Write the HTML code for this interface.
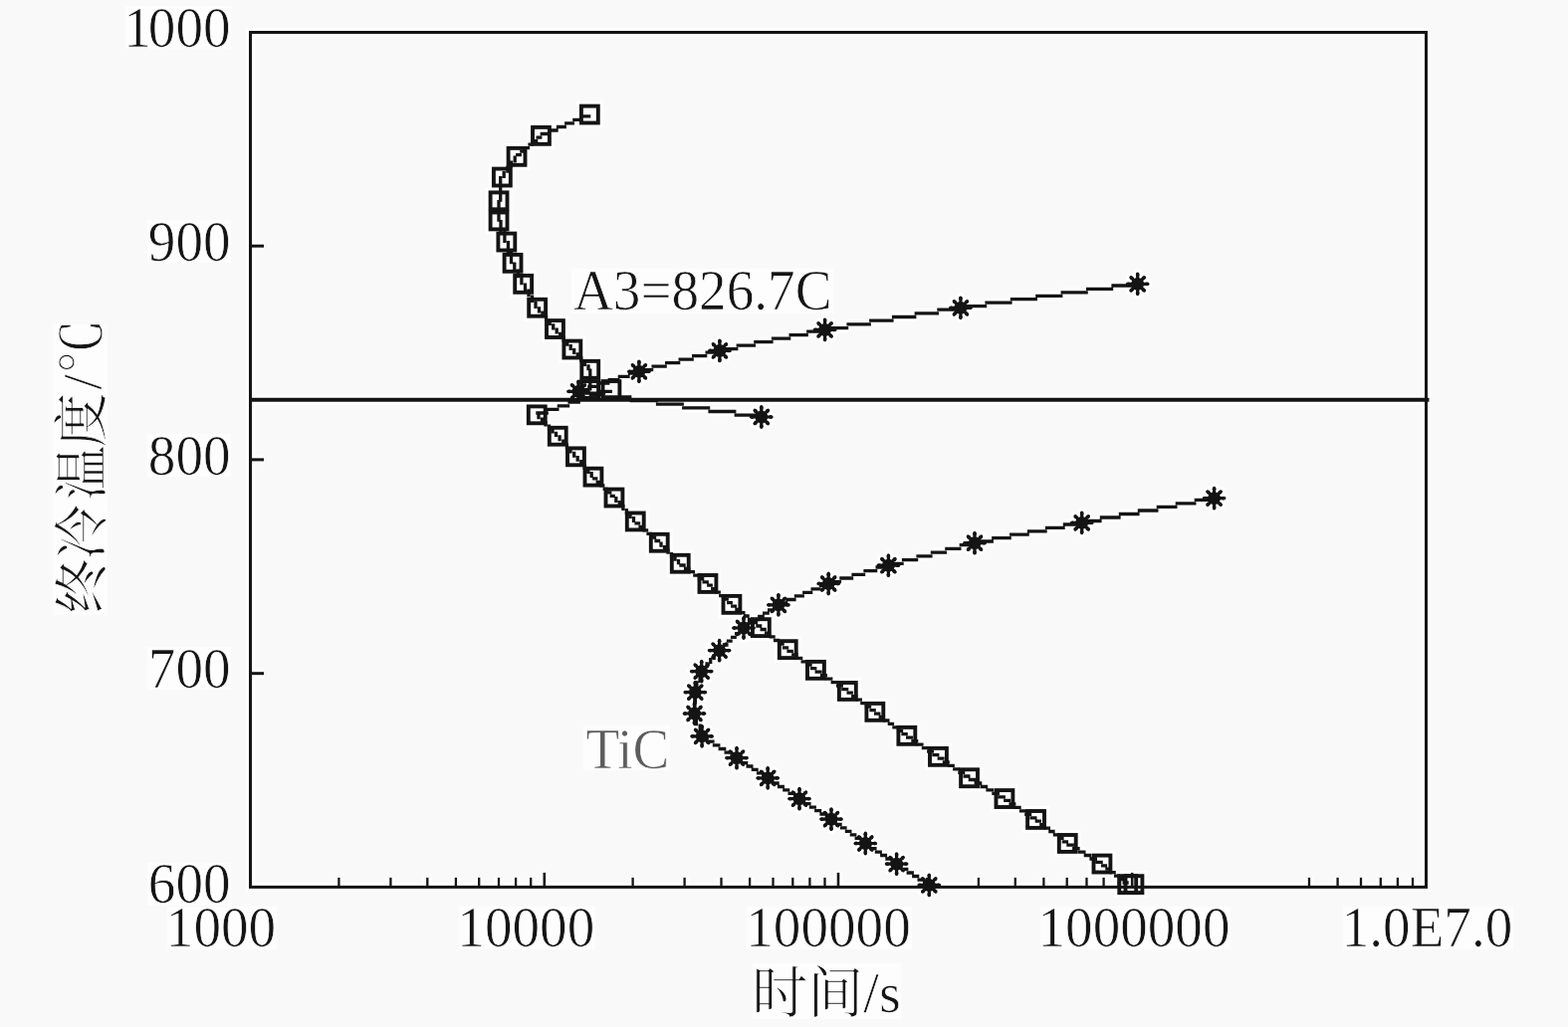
<!DOCTYPE html>
<html lang="zh">
<head>
<meta charset="utf-8">
<title>终冷温度-时间曲线</title>
<style>
html,body{margin:0;padding:0;background:#f9f9f9;}
body{width:1575px;height:1032px;overflow:hidden;font-family:"Liberation Serif","Noto Serif CJK SC",serif;}
svg{display:block;}
</style>
</head>
<body>
<svg width="1575" height="1032" viewBox="0 0 1575 1032">
<rect x="0" y="0" width="1575" height="1032" fill="#f9f9f9"/>
<rect x="126" y="6" width="106" height="43" fill="#fdfdfd"/><rect x="148" y="221" width="84" height="43" fill="#fdfdfd"/><rect x="148" y="436" width="84" height="43" fill="#fdfdfd"/><rect x="148" y="650" width="84" height="43" fill="#fdfdfd"/><rect x="148" y="867" width="84" height="43" fill="#fdfdfd"/><rect x="168" y="911" width="110" height="43" fill="#fdfdfd"/><rect x="461" y="911" width="137" height="43" fill="#fdfdfd"/><rect x="750" y="911" width="166" height="43" fill="#fdfdfd"/><rect x="1045" y="911" width="191" height="43" fill="#fdfdfd"/><rect x="1349" y="911" width="171" height="43" fill="#fdfdfd"/><rect x="756" y="968" width="149" height="56" fill="#fdfdfd"/><rect x="53" y="326" width="55" height="292" fill="#fdfdfd"/><rect x="574" y="270" width="263" height="45" fill="#fdfdfd"/><rect x="586" y="729" width="87" height="45" fill="#fdfdfd"/>
<g>
<rect x="251.5" y="32.5" width="1181.0" height="858.9" fill="none" stroke="#ffffff" stroke-width="9.0"/>
<line x1="251.5" y1="247.2" x2="265.0" y2="247.2" stroke="#ffffff" stroke-width="9.0"/>
<line x1="251.5" y1="461.9" x2="265.0" y2="461.9" stroke="#ffffff" stroke-width="9.0"/>
<line x1="251.5" y1="676.7" x2="265.0" y2="676.7" stroke="#ffffff" stroke-width="9.0"/>
<line x1="340.4" y1="891.4" x2="340.4" y2="881.9" stroke="#ffffff" stroke-width="8.3"/>
<line x1="392.4" y1="891.4" x2="392.4" y2="881.9" stroke="#ffffff" stroke-width="8.3"/>
<line x1="429.3" y1="891.4" x2="429.3" y2="881.9" stroke="#ffffff" stroke-width="8.3"/>
<line x1="457.9" y1="891.4" x2="457.9" y2="881.9" stroke="#ffffff" stroke-width="8.3"/>
<line x1="481.2" y1="891.4" x2="481.2" y2="881.9" stroke="#ffffff" stroke-width="8.3"/>
<line x1="501.0" y1="891.4" x2="501.0" y2="881.9" stroke="#ffffff" stroke-width="8.3"/>
<line x1="518.1" y1="891.4" x2="518.1" y2="881.9" stroke="#ffffff" stroke-width="8.3"/>
<line x1="533.2" y1="891.4" x2="533.2" y2="881.9" stroke="#ffffff" stroke-width="8.3"/>
<line x1="546.8" y1="891.4" x2="546.8" y2="876.9" stroke="#ffffff" stroke-width="8.6"/>
<line x1="635.6" y1="891.4" x2="635.6" y2="881.9" stroke="#ffffff" stroke-width="8.3"/>
<line x1="687.6" y1="891.4" x2="687.6" y2="881.9" stroke="#ffffff" stroke-width="8.3"/>
<line x1="724.5" y1="891.4" x2="724.5" y2="881.9" stroke="#ffffff" stroke-width="8.3"/>
<line x1="753.1" y1="891.4" x2="753.1" y2="881.9" stroke="#ffffff" stroke-width="8.3"/>
<line x1="776.5" y1="891.4" x2="776.5" y2="881.9" stroke="#ffffff" stroke-width="8.3"/>
<line x1="796.3" y1="891.4" x2="796.3" y2="881.9" stroke="#ffffff" stroke-width="8.3"/>
<line x1="813.4" y1="891.4" x2="813.4" y2="881.9" stroke="#ffffff" stroke-width="8.3"/>
<line x1="828.5" y1="891.4" x2="828.5" y2="881.9" stroke="#ffffff" stroke-width="8.3"/>
<line x1="842.0" y1="891.4" x2="842.0" y2="876.9" stroke="#ffffff" stroke-width="8.6"/>
<line x1="930.9" y1="891.4" x2="930.9" y2="881.9" stroke="#ffffff" stroke-width="8.3"/>
<line x1="982.9" y1="891.4" x2="982.9" y2="881.9" stroke="#ffffff" stroke-width="8.3"/>
<line x1="1019.8" y1="891.4" x2="1019.8" y2="881.9" stroke="#ffffff" stroke-width="8.3"/>
<line x1="1048.4" y1="891.4" x2="1048.4" y2="881.9" stroke="#ffffff" stroke-width="8.3"/>
<line x1="1071.7" y1="891.4" x2="1071.7" y2="881.9" stroke="#ffffff" stroke-width="8.3"/>
<line x1="1091.5" y1="891.4" x2="1091.5" y2="881.9" stroke="#ffffff" stroke-width="8.3"/>
<line x1="1108.6" y1="891.4" x2="1108.6" y2="881.9" stroke="#ffffff" stroke-width="8.3"/>
<line x1="1123.7" y1="891.4" x2="1123.7" y2="881.9" stroke="#ffffff" stroke-width="8.3"/>
<line x1="1137.2" y1="891.4" x2="1137.2" y2="876.9" stroke="#ffffff" stroke-width="8.6"/>
<line x1="1315.0" y1="891.4" x2="1315.0" y2="881.9" stroke="#ffffff" stroke-width="8.3"/>
<line x1="1343.6" y1="891.4" x2="1343.6" y2="881.9" stroke="#ffffff" stroke-width="8.3"/>
<line x1="1367.0" y1="891.4" x2="1367.0" y2="881.9" stroke="#ffffff" stroke-width="8.3"/>
<line x1="1386.8" y1="891.4" x2="1386.8" y2="881.9" stroke="#ffffff" stroke-width="8.3"/>
<line x1="1403.9" y1="891.4" x2="1403.9" y2="881.9" stroke="#ffffff" stroke-width="8.3"/>
<line x1="1419.0" y1="891.4" x2="1419.0" y2="881.9" stroke="#ffffff" stroke-width="8.3"/>
<line x1="251.5" y1="401.8" x2="1435.5" y2="401.8" stroke="#ffffff" stroke-width="9.9"/>
<path d="M593.3 116.9H583.4M585.1 120.4H575.2M577.0 123.9H567.1M568.9 127.5H558.9M560.7 131.0H550.8M552.5 134.5H542.6M544.4 138.1H538.5M540.3 141.6H534.4M536.2 145.1H530.4M532.1 148.6H526.3M528.1 152.1H522.2M524.0 155.6H518.1M517.2 156.4V163.4M513.5 161.6V168.6M509.9 166.8V173.7M506.2 171.9V178.9M502.7 177.1V202.7M501.0 200.9V222.8M503.0 221.0V233.3M506.9 231.5V243.9M510.4 242.1V254.6M513.5 252.8V265.3M516.8 263.5V272.3M520.4 270.5V279.3M523.9 277.5V286.3M527.5 284.5V292.2M531.0 290.4V298.2M534.5 296.4V304.1M538.0 302.4V310.1M541.5 308.3V314.4M545.0 312.6V318.6M548.6 316.8V322.9M552.2 321.1V327.1M555.7 325.3V331.4M559.2 329.6V335.5M562.7 333.7V339.6M566.2 337.8V343.7M569.7 341.9V347.8M573.2 346.0V351.9M576.7 350.1V356.0M580.3 354.2V360.0M583.8 358.2V364.1M587.4 362.3V368.1M591.0 366.3V372.2M592.8 370.4V392.4" fill="none" stroke="#ffffff" stroke-width="9.3"/>
<path d="M614.9 393.3H602.4M604.2 396.9H591.7M593.5 400.5H581.0M582.8 404.1H570.4M572.2 407.8H559.7M561.5 411.4H549.0M550.8 415.0H538.3M541.0 415.9V421.3M544.5 419.5V424.8M548.0 423.0V428.4M551.5 426.6V432.0M555.0 430.2V435.5M558.5 433.7V439.1M562.1 437.3V443.2M565.8 441.4V447.3M569.4 445.5V451.5M573.0 449.7V455.6M576.7 453.8V459.7M580.2 457.9V463.8M583.8 462.0V467.8M587.2 466.0V471.9M590.8 470.1V475.9M594.2 474.1V480.0M595.1 480.8H600.4M598.6 484.3H603.9M602.1 487.8H607.4M605.6 491.3H610.9M609.1 494.8H614.4M612.6 498.3H617.9M618.8 499.1V504.9M622.3 503.1V508.9M625.9 507.1V512.9M629.4 511.1V516.9M633.0 515.1V520.9M636.5 519.1V524.9M637.4 525.8H643.2M641.4 529.3H647.2M645.4 532.9H651.2M649.4 536.4H655.2M653.4 540.0H659.2M657.4 543.5H663.2M664.0 544.4V549.7M667.5 547.9V553.2M671.0 551.4V556.7M674.5 554.9V560.2M678.0 558.4V563.7M681.5 561.9V567.2M682.3 568.0H688.7M686.9 571.3H693.4M691.6 574.7H698.0M696.2 578.1H702.6M700.8 581.5H707.3M705.5 584.8H711.9M710.1 588.2H715.9M714.1 591.7H719.9M718.1 595.2H723.9M722.1 598.7H727.9M726.1 602.2H731.9M730.1 605.7H735.9M734.1 609.1H740.1M738.3 612.4H744.3M742.5 615.7H748.5M746.7 619.0H752.7M750.9 622.4H756.9M755.1 625.7H761.1M759.3 629.0H765.3M763.5 632.5H769.8M768.0 636.2H774.3M772.5 639.9H778.7M776.9 643.5H783.2M781.4 647.2H787.7M785.9 650.9H792.2M790.4 654.4H796.9M795.1 657.9H801.6M799.8 661.3H806.3M804.5 664.8H811.0M809.2 668.2H815.7M813.9 671.7H820.4M818.6 675.2H825.7M823.9 678.7H831.0M829.2 682.2H836.4M834.6 685.7H841.7M839.9 689.2H847.0M845.2 692.7H852.3M850.5 696.2H856.9M855.1 699.7H861.5M859.7 703.2H866.0M864.2 706.7H870.6M868.8 710.2H875.2M873.4 713.7H879.8M878.0 717.1H884.4M882.6 720.5H888.9M887.1 724.0H893.5M891.7 727.4H898.1M896.3 730.8H902.7M900.9 734.3H907.2M905.4 737.7H911.8M910.0 741.1H917.1M915.3 744.6H922.3M920.5 748.1H927.6M925.8 751.6H932.9M931.1 755.1H938.1M936.3 758.6H943.4M941.6 762.2H948.6M946.8 765.8H953.8M952.0 769.3H958.9M957.1 772.9H964.1M962.3 776.4H969.3M967.5 780.0H974.5M972.7 783.5H980.4M978.6 787.0H986.3M984.5 790.5H992.2M990.4 793.9H998.1M996.3 797.4H1004.0M1002.2 800.9H1009.9M1008.1 804.3H1015.2M1013.4 807.8H1020.4M1018.6 811.3H1025.7M1023.9 814.8H1031.0M1029.2 818.3H1036.2M1034.4 821.8H1041.5M1039.7 825.2H1046.0M1044.2 828.6H1050.5M1048.7 832.1H1055.0M1053.2 835.5H1059.6M1057.8 838.9H1064.1M1062.3 842.4H1068.6M1066.8 845.8H1073.1M1071.3 849.2H1078.9M1077.1 852.6H1084.7M1082.9 856.1H1090.5M1088.7 859.5H1096.2M1094.4 863.0H1102.0M1100.2 866.4H1107.8M1106.0 869.8H1112.1M1110.3 873.2H1116.4M1114.6 876.7H1120.8M1118.9 880.1H1125.1M1123.3 883.6H1129.4M1127.6 887.0H1133.7" fill="none" stroke="#ffffff" stroke-width="9.3"/>
<path d="M1143.6 287.0H1116.4M1118.2 290.4H1091.0M1092.8 293.9H1065.6M1067.4 297.3H1040.2M1042.0 300.7H1014.8M1016.6 304.2H989.4M991.2 307.6H964.0M965.8 311.1H941.3M943.1 314.8H918.6M920.4 318.5H895.9M897.6 322.2H873.1M874.9 325.9H850.4M852.2 329.6H827.7M829.5 333.1H810.1M811.9 336.6H792.5M794.3 340.1H774.9M776.6 343.6H757.2M759.0 347.1H739.6M741.4 350.6H722.0M723.8 354.1H708.5M710.3 357.6H695.0M696.8 361.1H681.5M683.3 364.6H668.0M669.8 368.1H654.5M656.3 371.6H641.0M642.8 375.0H630.9M632.6 378.3H620.7M622.5 381.6H610.6M612.4 385.0H600.4M602.2 388.3H590.2M592.0 391.6H580.1M580.1 395.1H608.2M606.4 398.8H634.4M632.6 402.5H660.7M658.9 406.1H686.9M685.1 409.8H713.2M711.4 413.5H739.4M737.6 417.2H765.7" fill="none" stroke="#ffffff" stroke-width="9.3"/>
<path d="M1220.5 502.4H1199.7M1201.5 505.9H1180.7M1182.5 509.4H1161.7M1163.5 513.0H1142.8M1144.6 516.5H1123.8M1125.6 520.0H1104.8M1106.6 523.5H1085.8M1087.6 527.0H1067.8M1069.7 530.4H1049.9M1051.7 533.8H1031.9M1033.8 537.2H1014.0M1015.8 540.6H996.1M997.9 544.0H978.1M979.9 547.6H963.7M965.5 551.3H949.2M951.0 555.1H934.8M936.6 558.8H920.4M922.2 562.6H905.9M907.7 566.3H891.5M893.3 570.0H879.5M881.3 573.7H867.4M869.2 577.4H855.4M857.2 581.0H843.3M845.1 584.7H831.3M833.1 588.3H822.9M824.7 591.8H814.5M816.3 595.4H806.1M807.9 598.9H797.8M799.6 602.5H789.4M791.2 606.0H781.0M782.8 609.5H776.0M777.8 612.8H771.0M772.8 616.1H766.0M767.8 619.4H761.1M762.9 622.7H756.1M757.9 626.0H751.1M752.9 629.3H746.1M747.9 632.9H742.0M743.8 636.6H738.0M739.8 640.4H733.9M735.7 644.2H729.8M731.6 648.0H725.8M727.6 651.7H721.7M720.8 652.7V658.7M717.2 656.9V662.9M713.7 661.1V667.1M710.1 665.3V671.3M706.5 669.5V675.5M703.1 673.7V686.0M699.9 684.2V696.5M697.9 694.7V717.9M699.4 716.1V729.3M703.2 727.5V740.7M704.2 741.6H711.8M710.0 745.2H717.6M715.8 748.9H723.4M721.6 752.5H729.3M727.5 756.1H735.1M733.3 759.8H740.9M739.1 763.3H746.1M744.3 766.6H751.3M749.5 770.0H756.5M754.7 773.4H761.7M759.9 776.8H766.9M765.1 780.1H772.1M770.3 783.5H777.4M775.6 787.0H782.7M780.9 790.5H788.0M786.2 793.9H793.3M791.5 797.4H798.6M796.8 800.9H803.9M802.1 804.3H809.2M807.4 807.7H814.6M812.8 811.1H819.9M818.1 814.6H825.2M823.4 818.0H830.6M828.8 821.4H835.9M834.1 824.8H840.8M839.0 828.3H845.7M843.9 831.8H850.6M848.8 835.3H855.5M853.7 838.8H860.4M858.6 842.3H865.3M863.5 845.8H870.2M868.4 849.2H875.4M873.6 852.6H880.6M878.8 856.1H885.9M884.1 859.5H891.1M889.3 863.0H896.3M894.5 866.4H901.5M899.7 869.9H906.9M905.1 873.4H912.4M910.6 877.0H917.9M916.1 880.5H923.3M921.5 884.1H928.7M926.9 887.6H934.2" fill="none" stroke="#ffffff" stroke-width="9.3"/>
<rect x="583.9" y="106.6" width="16.9" height="16.9" fill="none" stroke="#ffffff" stroke-width="9.9"/>
<rect x="535.0" y="127.9" width="16.9" height="16.9" fill="none" stroke="#ffffff" stroke-width="9.9"/>
<rect x="510.6" y="148.9" width="16.9" height="16.9" fill="none" stroke="#ffffff" stroke-width="9.9"/>
<rect x="495.9" y="169.6" width="16.9" height="16.9" fill="none" stroke="#ffffff" stroke-width="9.9"/>
<rect x="492.6" y="193.4" width="16.9" height="16.9" fill="none" stroke="#ffffff" stroke-width="9.9"/>
<rect x="492.6" y="213.5" width="16.9" height="16.9" fill="none" stroke="#ffffff" stroke-width="9.9"/>
<rect x="500.4" y="234.6" width="16.9" height="16.9" fill="none" stroke="#ffffff" stroke-width="9.9"/>
<rect x="506.6" y="255.9" width="16.9" height="16.9" fill="none" stroke="#ffffff" stroke-width="9.9"/>
<rect x="517.2" y="276.9" width="16.9" height="16.9" fill="none" stroke="#ffffff" stroke-width="9.9"/>
<rect x="531.2" y="300.8" width="16.9" height="16.9" fill="none" stroke="#ffffff" stroke-width="9.9"/>
<rect x="549.0" y="322.1" width="16.9" height="16.9" fill="none" stroke="#ffffff" stroke-width="9.9"/>
<rect x="566.4" y="342.6" width="16.9" height="16.9" fill="none" stroke="#ffffff" stroke-width="9.9"/>
<rect x="584.3" y="362.9" width="16.9" height="16.9" fill="none" stroke="#ffffff" stroke-width="9.9"/>
<rect x="584.2" y="383.1" width="16.9" height="16.9" fill="none" stroke="#ffffff" stroke-width="9.9"/>
<rect x="605.5" y="383.1" width="16.9" height="16.9" fill="none" stroke="#ffffff" stroke-width="9.9"/>
<rect x="530.8" y="408.4" width="16.9" height="16.9" fill="none" stroke="#ffffff" stroke-width="9.9"/>
<rect x="551.8" y="429.8" width="16.9" height="16.9" fill="none" stroke="#ffffff" stroke-width="9.9"/>
<rect x="570.0" y="450.4" width="16.9" height="16.9" fill="none" stroke="#ffffff" stroke-width="9.9"/>
<rect x="587.5" y="470.7" width="16.9" height="16.9" fill="none" stroke="#ffffff" stroke-width="9.9"/>
<rect x="608.5" y="491.6" width="16.9" height="16.9" fill="none" stroke="#ffffff" stroke-width="9.9"/>
<rect x="629.8" y="515.5" width="16.9" height="16.9" fill="none" stroke="#ffffff" stroke-width="9.9"/>
<rect x="653.8" y="536.8" width="16.9" height="16.9" fill="none" stroke="#ffffff" stroke-width="9.9"/>
<rect x="674.8" y="557.8" width="16.9" height="16.9" fill="none" stroke="#ffffff" stroke-width="9.9"/>
<rect x="702.5" y="578.0" width="16.9" height="16.9" fill="none" stroke="#ffffff" stroke-width="9.9"/>
<rect x="726.5" y="598.9" width="16.9" height="16.9" fill="none" stroke="#ffffff" stroke-width="9.9"/>
<rect x="755.9" y="622.2" width="16.9" height="16.9" fill="none" stroke="#ffffff" stroke-width="9.9"/>
<rect x="782.8" y="644.2" width="16.9" height="16.9" fill="none" stroke="#ffffff" stroke-width="9.9"/>
<rect x="811.0" y="664.9" width="16.9" height="16.9" fill="none" stroke="#ffffff" stroke-width="9.9"/>
<rect x="842.9" y="686.0" width="16.9" height="16.9" fill="none" stroke="#ffffff" stroke-width="9.9"/>
<rect x="870.4" y="706.9" width="16.9" height="16.9" fill="none" stroke="#ffffff" stroke-width="9.9"/>
<rect x="902.4" y="730.9" width="16.9" height="16.9" fill="none" stroke="#ffffff" stroke-width="9.9"/>
<rect x="934.0" y="751.9" width="16.9" height="16.9" fill="none" stroke="#ffffff" stroke-width="9.9"/>
<rect x="965.1" y="773.3" width="16.9" height="16.9" fill="none" stroke="#ffffff" stroke-width="9.9"/>
<rect x="1000.5" y="794.1" width="16.9" height="16.9" fill="none" stroke="#ffffff" stroke-width="9.9"/>
<rect x="1032.1" y="815.0" width="16.9" height="16.9" fill="none" stroke="#ffffff" stroke-width="9.9"/>
<rect x="1063.8" y="839.0" width="16.9" height="16.9" fill="none" stroke="#ffffff" stroke-width="9.9"/>
<rect x="1098.5" y="859.6" width="16.9" height="16.9" fill="none" stroke="#ffffff" stroke-width="9.9"/>
<rect x="1124.3" y="880.2" width="16.9" height="16.9" fill="none" stroke="#ffffff" stroke-width="9.9"/>
<rect x="1130.5" y="880.2" width="16.9" height="16.9" fill="none" stroke="#ffffff" stroke-width="9.9"/>
<g fill="#ffffff"><path d="M1132.4 285.3L1153.0 285.3M1136.0 278.6L1149.4 292.0M1142.7 275.0L1142.7 295.6M1149.4 278.6L1136.0 292.0" stroke="#ffffff" stroke-width="9.2" stroke-linecap="round" fill="none"/><circle cx="1142.7" cy="285.3" r="6.4"/><circle cx="1133.4" cy="285.3" r="1.9"/><circle cx="1152.0" cy="285.3" r="1.9"/><circle cx="1136.7" cy="279.3" r="1.9"/><circle cx="1148.7" cy="291.3" r="1.9"/><circle cx="1142.7" cy="276.0" r="1.9"/><circle cx="1142.7" cy="294.6" r="1.9"/><circle cx="1148.7" cy="279.3" r="1.9"/><circle cx="1136.7" cy="291.3" r="1.9"/></g>
<g fill="#ffffff"><path d="M954.6 309.3L975.2 309.3M958.2 302.6L971.6 316.0M964.9 299.0L964.9 319.6M971.6 302.6L958.2 316.0" stroke="#ffffff" stroke-width="9.2" stroke-linecap="round" fill="none"/><circle cx="964.9" cy="309.3" r="6.4"/><circle cx="955.6" cy="309.3" r="1.9"/><circle cx="974.2" cy="309.3" r="1.9"/><circle cx="958.9" cy="303.3" r="1.9"/><circle cx="970.9" cy="315.3" r="1.9"/><circle cx="964.9" cy="300.0" r="1.9"/><circle cx="964.9" cy="318.6" r="1.9"/><circle cx="970.9" cy="303.3" r="1.9"/><circle cx="958.9" cy="315.3" r="1.9"/></g>
<g fill="#ffffff"><path d="M818.3 331.4L838.9 331.4M821.9 324.7L835.3 338.1M828.6 321.1L828.6 341.7M835.3 324.7L821.9 338.1" stroke="#ffffff" stroke-width="9.2" stroke-linecap="round" fill="none"/><circle cx="828.6" cy="331.4" r="6.4"/><circle cx="819.3" cy="331.4" r="1.9"/><circle cx="837.9" cy="331.4" r="1.9"/><circle cx="822.6" cy="325.4" r="1.9"/><circle cx="834.6" cy="337.4" r="1.9"/><circle cx="828.6" cy="322.1" r="1.9"/><circle cx="828.6" cy="340.7" r="1.9"/><circle cx="834.6" cy="325.4" r="1.9"/><circle cx="822.6" cy="337.4" r="1.9"/></g>
<g fill="#ffffff"><path d="M712.6 352.4L733.2 352.4M716.2 345.7L729.6 359.1M722.9 342.1L722.9 362.7M729.6 345.7L716.2 359.1" stroke="#ffffff" stroke-width="9.2" stroke-linecap="round" fill="none"/><circle cx="722.9" cy="352.4" r="6.4"/><circle cx="713.6" cy="352.4" r="1.9"/><circle cx="732.2" cy="352.4" r="1.9"/><circle cx="716.9" cy="346.4" r="1.9"/><circle cx="728.9" cy="358.4" r="1.9"/><circle cx="722.9" cy="343.1" r="1.9"/><circle cx="722.9" cy="361.7" r="1.9"/><circle cx="728.9" cy="346.4" r="1.9"/><circle cx="716.9" cy="358.4" r="1.9"/></g>
<g fill="#ffffff"><path d="M631.6 373.3L652.2 373.3M635.2 366.6L648.6 380.0M641.9 363.0L641.9 383.6M648.6 366.6L635.2 380.0" stroke="#ffffff" stroke-width="9.2" stroke-linecap="round" fill="none"/><circle cx="641.9" cy="373.3" r="6.4"/><circle cx="632.6" cy="373.3" r="1.9"/><circle cx="651.2" cy="373.3" r="1.9"/><circle cx="635.9" cy="367.3" r="1.9"/><circle cx="647.9" cy="379.3" r="1.9"/><circle cx="641.9" cy="364.0" r="1.9"/><circle cx="641.9" cy="382.6" r="1.9"/><circle cx="647.9" cy="367.3" r="1.9"/><circle cx="635.9" cy="379.3" r="1.9"/></g>
<g fill="#ffffff"><path d="M570.7 393.3L591.3 393.3M574.3 386.6L587.7 400.0M581.0 383.0L581.0 403.6M587.7 386.6L574.3 400.0" stroke="#ffffff" stroke-width="9.2" stroke-linecap="round" fill="none"/><circle cx="581.0" cy="393.3" r="6.4"/><circle cx="571.7" cy="393.3" r="1.9"/><circle cx="590.3" cy="393.3" r="1.9"/><circle cx="575.0" cy="387.3" r="1.9"/><circle cx="587.0" cy="399.3" r="1.9"/><circle cx="581.0" cy="384.0" r="1.9"/><circle cx="581.0" cy="402.6" r="1.9"/><circle cx="587.0" cy="387.3" r="1.9"/><circle cx="575.0" cy="399.3" r="1.9"/></g>
<g fill="#ffffff"><path d="M754.5 419.0L775.1 419.0M758.1 412.3L771.5 425.7M764.8 408.7L764.8 429.3M771.5 412.3L758.1 425.7" stroke="#ffffff" stroke-width="9.2" stroke-linecap="round" fill="none"/><circle cx="764.8" cy="419.0" r="6.4"/><circle cx="755.5" cy="419.0" r="1.9"/><circle cx="774.1" cy="419.0" r="1.9"/><circle cx="758.8" cy="413.0" r="1.9"/><circle cx="770.8" cy="425.0" r="1.9"/><circle cx="764.8" cy="409.7" r="1.9"/><circle cx="764.8" cy="428.3" r="1.9"/><circle cx="770.8" cy="413.0" r="1.9"/><circle cx="758.8" cy="425.0" r="1.9"/></g>
<g fill="#ffffff"><path d="M1209.3 500.6L1229.9 500.6M1212.9 493.9L1226.3 507.3M1219.6 490.3L1219.6 510.9M1226.3 493.9L1212.9 507.3" stroke="#ffffff" stroke-width="9.2" stroke-linecap="round" fill="none"/><circle cx="1219.6" cy="500.6" r="6.4"/><circle cx="1210.3" cy="500.6" r="1.9"/><circle cx="1228.9" cy="500.6" r="1.9"/><circle cx="1213.6" cy="494.6" r="1.9"/><circle cx="1225.6" cy="506.6" r="1.9"/><circle cx="1219.6" cy="491.3" r="1.9"/><circle cx="1219.6" cy="509.9" r="1.9"/><circle cx="1225.6" cy="494.6" r="1.9"/><circle cx="1213.6" cy="506.6" r="1.9"/></g>
<g fill="#ffffff"><path d="M1076.4 525.3L1097.0 525.3M1080.0 518.6L1093.4 532.0M1086.7 515.0L1086.7 535.6M1093.4 518.6L1080.0 532.0" stroke="#ffffff" stroke-width="9.2" stroke-linecap="round" fill="none"/><circle cx="1086.7" cy="525.3" r="6.4"/><circle cx="1077.4" cy="525.3" r="1.9"/><circle cx="1096.0" cy="525.3" r="1.9"/><circle cx="1080.7" cy="519.3" r="1.9"/><circle cx="1092.7" cy="531.3" r="1.9"/><circle cx="1086.7" cy="516.0" r="1.9"/><circle cx="1086.7" cy="534.6" r="1.9"/><circle cx="1092.7" cy="519.3" r="1.9"/><circle cx="1080.7" cy="531.3" r="1.9"/></g>
<g fill="#ffffff"><path d="M968.7 545.7L989.3 545.7M972.3 539.0L985.7 552.4M979.0 535.4L979.0 556.0M985.7 539.0L972.3 552.4" stroke="#ffffff" stroke-width="9.2" stroke-linecap="round" fill="none"/><circle cx="979.0" cy="545.7" r="6.4"/><circle cx="969.7" cy="545.7" r="1.9"/><circle cx="988.3" cy="545.7" r="1.9"/><circle cx="973.0" cy="539.7" r="1.9"/><circle cx="985.0" cy="551.7" r="1.9"/><circle cx="979.0" cy="536.4" r="1.9"/><circle cx="979.0" cy="555.0" r="1.9"/><circle cx="985.0" cy="539.7" r="1.9"/><circle cx="973.0" cy="551.7" r="1.9"/></g>
<g fill="#ffffff"><path d="M882.1 568.2L902.7 568.2M885.7 561.5L899.1 574.9M892.4 557.9L892.4 578.5M899.1 561.5L885.7 574.9" stroke="#ffffff" stroke-width="9.2" stroke-linecap="round" fill="none"/><circle cx="892.4" cy="568.2" r="6.4"/><circle cx="883.1" cy="568.2" r="1.9"/><circle cx="901.7" cy="568.2" r="1.9"/><circle cx="886.4" cy="562.2" r="1.9"/><circle cx="898.4" cy="574.2" r="1.9"/><circle cx="892.4" cy="558.9" r="1.9"/><circle cx="892.4" cy="577.5" r="1.9"/><circle cx="898.4" cy="562.2" r="1.9"/><circle cx="886.4" cy="574.2" r="1.9"/></g>
<g fill="#ffffff"><path d="M821.9 586.5L842.5 586.5M825.5 579.8L838.9 593.2M832.2 576.2L832.2 596.8M838.9 579.8L825.5 593.2" stroke="#ffffff" stroke-width="9.2" stroke-linecap="round" fill="none"/><circle cx="832.2" cy="586.5" r="6.4"/><circle cx="822.9" cy="586.5" r="1.9"/><circle cx="841.5" cy="586.5" r="1.9"/><circle cx="826.2" cy="580.5" r="1.9"/><circle cx="838.2" cy="592.5" r="1.9"/><circle cx="832.2" cy="577.2" r="1.9"/><circle cx="832.2" cy="595.8" r="1.9"/><circle cx="838.2" cy="580.5" r="1.9"/><circle cx="826.2" cy="592.5" r="1.9"/></g>
<g fill="#ffffff"><path d="M771.6 607.8L792.2 607.8M775.2 601.1L788.6 614.5M781.9 597.5L781.9 618.1M788.6 601.1L775.2 614.5" stroke="#ffffff" stroke-width="9.2" stroke-linecap="round" fill="none"/><circle cx="781.9" cy="607.8" r="6.4"/><circle cx="772.6" cy="607.8" r="1.9"/><circle cx="791.2" cy="607.8" r="1.9"/><circle cx="775.9" cy="601.8" r="1.9"/><circle cx="787.9" cy="613.8" r="1.9"/><circle cx="781.9" cy="598.5" r="1.9"/><circle cx="781.9" cy="617.1" r="1.9"/><circle cx="787.9" cy="601.8" r="1.9"/><circle cx="775.9" cy="613.8" r="1.9"/></g>
<g fill="#ffffff"><path d="M736.7 631.0L757.3 631.0M740.3 624.3L753.7 637.7M747.0 620.7L747.0 641.3M753.7 624.3L740.3 637.7" stroke="#ffffff" stroke-width="9.2" stroke-linecap="round" fill="none"/><circle cx="747.0" cy="631.0" r="6.4"/><circle cx="737.7" cy="631.0" r="1.9"/><circle cx="756.3" cy="631.0" r="1.9"/><circle cx="741.0" cy="625.0" r="1.9"/><circle cx="753.0" cy="637.0" r="1.9"/><circle cx="747.0" cy="621.7" r="1.9"/><circle cx="747.0" cy="640.3" r="1.9"/><circle cx="753.0" cy="625.0" r="1.9"/><circle cx="741.0" cy="637.0" r="1.9"/></g>
<g fill="#ffffff"><path d="M712.3 653.6L732.9 653.6M715.9 646.9L729.3 660.3M722.6 643.3L722.6 663.9M729.3 646.9L715.9 660.3" stroke="#ffffff" stroke-width="9.2" stroke-linecap="round" fill="none"/><circle cx="722.6" cy="653.6" r="6.4"/><circle cx="713.3" cy="653.6" r="1.9"/><circle cx="731.9" cy="653.6" r="1.9"/><circle cx="716.6" cy="647.6" r="1.9"/><circle cx="728.6" cy="659.6" r="1.9"/><circle cx="722.6" cy="644.3" r="1.9"/><circle cx="722.6" cy="662.9" r="1.9"/><circle cx="728.6" cy="647.6" r="1.9"/><circle cx="716.6" cy="659.6" r="1.9"/></g>
<g fill="#ffffff"><path d="M694.4 674.6L715.0 674.6M698.0 667.9L711.4 681.3M704.7 664.3L704.7 684.9M711.4 667.9L698.0 681.3" stroke="#ffffff" stroke-width="9.2" stroke-linecap="round" fill="none"/><circle cx="704.7" cy="674.6" r="6.4"/><circle cx="695.4" cy="674.6" r="1.9"/><circle cx="714.0" cy="674.6" r="1.9"/><circle cx="698.7" cy="668.6" r="1.9"/><circle cx="710.7" cy="680.6" r="1.9"/><circle cx="704.7" cy="665.3" r="1.9"/><circle cx="704.7" cy="683.9" r="1.9"/><circle cx="710.7" cy="668.6" r="1.9"/><circle cx="698.7" cy="680.6" r="1.9"/></g>
<g fill="#ffffff"><path d="M688.0 695.6L708.6 695.6M691.6 688.9L705.0 702.3M698.3 685.3L698.3 705.9M705.0 688.9L691.6 702.3" stroke="#ffffff" stroke-width="9.2" stroke-linecap="round" fill="none"/><circle cx="698.3" cy="695.6" r="6.4"/><circle cx="689.0" cy="695.6" r="1.9"/><circle cx="707.6" cy="695.6" r="1.9"/><circle cx="692.3" cy="689.6" r="1.9"/><circle cx="704.3" cy="701.6" r="1.9"/><circle cx="698.3" cy="686.3" r="1.9"/><circle cx="698.3" cy="704.9" r="1.9"/><circle cx="704.3" cy="689.6" r="1.9"/><circle cx="692.3" cy="701.6" r="1.9"/></g>
<g fill="#ffffff"><path d="M687.2 717.0L707.8 717.0M690.8 710.3L704.2 723.7M697.5 706.7L697.5 727.3M704.2 710.3L690.8 723.7" stroke="#ffffff" stroke-width="9.2" stroke-linecap="round" fill="none"/><circle cx="697.5" cy="717.0" r="6.4"/><circle cx="688.2" cy="717.0" r="1.9"/><circle cx="706.8" cy="717.0" r="1.9"/><circle cx="691.5" cy="711.0" r="1.9"/><circle cx="703.5" cy="723.0" r="1.9"/><circle cx="697.5" cy="707.7" r="1.9"/><circle cx="697.5" cy="726.3" r="1.9"/><circle cx="703.5" cy="711.0" r="1.9"/><circle cx="691.5" cy="723.0" r="1.9"/></g>
<g fill="#ffffff"><path d="M694.8 739.8L715.4 739.8M698.4 733.1L711.8 746.5M705.1 729.5L705.1 750.1M711.8 733.1L698.4 746.5" stroke="#ffffff" stroke-width="9.2" stroke-linecap="round" fill="none"/><circle cx="705.1" cy="739.8" r="6.4"/><circle cx="695.8" cy="739.8" r="1.9"/><circle cx="714.4" cy="739.8" r="1.9"/><circle cx="699.1" cy="733.8" r="1.9"/><circle cx="711.1" cy="745.8" r="1.9"/><circle cx="705.1" cy="730.5" r="1.9"/><circle cx="705.1" cy="749.1" r="1.9"/><circle cx="711.1" cy="733.8" r="1.9"/><circle cx="699.1" cy="745.8" r="1.9"/></g>
<g fill="#ffffff"><path d="M729.7 761.6L750.3 761.6M733.3 754.9L746.7 768.3M740.0 751.3L740.0 771.9M746.7 754.9L733.3 768.3" stroke="#ffffff" stroke-width="9.2" stroke-linecap="round" fill="none"/><circle cx="740.0" cy="761.6" r="6.4"/><circle cx="730.7" cy="761.6" r="1.9"/><circle cx="749.3" cy="761.6" r="1.9"/><circle cx="734.0" cy="755.6" r="1.9"/><circle cx="746.0" cy="767.6" r="1.9"/><circle cx="740.0" cy="752.3" r="1.9"/><circle cx="740.0" cy="770.9" r="1.9"/><circle cx="746.0" cy="755.6" r="1.9"/><circle cx="734.0" cy="767.6" r="1.9"/></g>
<g fill="#ffffff"><path d="M760.9 781.8L781.5 781.8M764.5 775.1L777.9 788.5M771.2 771.5L771.2 792.1M777.9 775.1L764.5 788.5" stroke="#ffffff" stroke-width="9.2" stroke-linecap="round" fill="none"/><circle cx="771.2" cy="781.8" r="6.4"/><circle cx="761.9" cy="781.8" r="1.9"/><circle cx="780.5" cy="781.8" r="1.9"/><circle cx="765.2" cy="775.8" r="1.9"/><circle cx="777.2" cy="787.8" r="1.9"/><circle cx="771.2" cy="772.5" r="1.9"/><circle cx="771.2" cy="791.1" r="1.9"/><circle cx="777.2" cy="775.8" r="1.9"/><circle cx="765.2" cy="787.8" r="1.9"/></g>
<g fill="#ffffff"><path d="M792.7 802.6L813.3 802.6M796.3 795.9L809.7 809.3M803.0 792.3L803.0 812.9M809.7 795.9L796.3 809.3" stroke="#ffffff" stroke-width="9.2" stroke-linecap="round" fill="none"/><circle cx="803.0" cy="802.6" r="6.4"/><circle cx="793.7" cy="802.6" r="1.9"/><circle cx="812.3" cy="802.6" r="1.9"/><circle cx="797.0" cy="796.6" r="1.9"/><circle cx="809.0" cy="808.6" r="1.9"/><circle cx="803.0" cy="793.3" r="1.9"/><circle cx="803.0" cy="811.9" r="1.9"/><circle cx="809.0" cy="796.6" r="1.9"/><circle cx="797.0" cy="808.6" r="1.9"/></g>
<g fill="#ffffff"><path d="M824.7 823.1L845.3 823.1M828.3 816.4L841.7 829.8M835.0 812.8L835.0 833.4M841.7 816.4L828.3 829.8" stroke="#ffffff" stroke-width="9.2" stroke-linecap="round" fill="none"/><circle cx="835.0" cy="823.1" r="6.4"/><circle cx="825.7" cy="823.1" r="1.9"/><circle cx="844.3" cy="823.1" r="1.9"/><circle cx="829.0" cy="817.1" r="1.9"/><circle cx="841.0" cy="829.1" r="1.9"/><circle cx="835.0" cy="813.8" r="1.9"/><circle cx="835.0" cy="832.4" r="1.9"/><circle cx="841.0" cy="817.1" r="1.9"/><circle cx="829.0" cy="829.1" r="1.9"/></g>
<g fill="#ffffff"><path d="M859.0 847.5L879.6 847.5M862.6 840.8L876.0 854.2M869.3 837.2L869.3 857.8M876.0 840.8L862.6 854.2" stroke="#ffffff" stroke-width="9.2" stroke-linecap="round" fill="none"/><circle cx="869.3" cy="847.5" r="6.4"/><circle cx="860.0" cy="847.5" r="1.9"/><circle cx="878.6" cy="847.5" r="1.9"/><circle cx="863.3" cy="841.5" r="1.9"/><circle cx="875.3" cy="853.5" r="1.9"/><circle cx="869.3" cy="838.2" r="1.9"/><circle cx="869.3" cy="856.8" r="1.9"/><circle cx="875.3" cy="841.5" r="1.9"/><circle cx="863.3" cy="853.5" r="1.9"/></g>
<g fill="#ffffff"><path d="M890.3 868.1L910.9 868.1M893.9 861.4L907.3 874.8M900.6 857.8L900.6 878.4M907.3 861.4L893.9 874.8" stroke="#ffffff" stroke-width="9.2" stroke-linecap="round" fill="none"/><circle cx="900.6" cy="868.1" r="6.4"/><circle cx="891.3" cy="868.1" r="1.9"/><circle cx="909.9" cy="868.1" r="1.9"/><circle cx="894.6" cy="862.1" r="1.9"/><circle cx="906.6" cy="874.1" r="1.9"/><circle cx="900.6" cy="858.8" r="1.9"/><circle cx="900.6" cy="877.4" r="1.9"/><circle cx="906.6" cy="862.1" r="1.9"/><circle cx="894.6" cy="874.1" r="1.9"/></g>
<g fill="#ffffff"><path d="M923.0 889.4L943.6 889.4M926.6 882.7L940.0 896.1M933.3 879.1L933.3 899.7M940.0 882.7L926.6 896.1" stroke="#ffffff" stroke-width="9.2" stroke-linecap="round" fill="none"/><circle cx="933.3" cy="889.4" r="6.4"/><circle cx="924.0" cy="889.4" r="1.9"/><circle cx="942.6" cy="889.4" r="1.9"/><circle cx="927.3" cy="883.4" r="1.9"/><circle cx="939.3" cy="895.4" r="1.9"/><circle cx="933.3" cy="880.1" r="1.9"/><circle cx="933.3" cy="898.7" r="1.9"/><circle cx="939.3" cy="883.4" r="1.9"/><circle cx="927.3" cy="895.4" r="1.9"/></g>
</g>
<rect x="251.5" y="32.5" width="1181.0" height="858.9" fill="none" stroke="#141414" stroke-width="3"/>
<line x1="251.5" y1="247.2" x2="265.0" y2="247.2" stroke="#141414" stroke-width="3"/>
<line x1="251.5" y1="461.9" x2="265.0" y2="461.9" stroke="#141414" stroke-width="3"/>
<line x1="251.5" y1="676.7" x2="265.0" y2="676.7" stroke="#141414" stroke-width="3"/>
<line x1="340.4" y1="891.4" x2="340.4" y2="881.9" stroke="#141414" stroke-width="2.3"/>
<line x1="392.4" y1="891.4" x2="392.4" y2="881.9" stroke="#141414" stroke-width="2.3"/>
<line x1="429.3" y1="891.4" x2="429.3" y2="881.9" stroke="#141414" stroke-width="2.3"/>
<line x1="457.9" y1="891.4" x2="457.9" y2="881.9" stroke="#141414" stroke-width="2.3"/>
<line x1="481.2" y1="891.4" x2="481.2" y2="881.9" stroke="#141414" stroke-width="2.3"/>
<line x1="501.0" y1="891.4" x2="501.0" y2="881.9" stroke="#141414" stroke-width="2.3"/>
<line x1="518.1" y1="891.4" x2="518.1" y2="881.9" stroke="#141414" stroke-width="2.3"/>
<line x1="533.2" y1="891.4" x2="533.2" y2="881.9" stroke="#141414" stroke-width="2.3"/>
<line x1="546.8" y1="891.4" x2="546.8" y2="876.9" stroke="#141414" stroke-width="2.6"/>
<line x1="635.6" y1="891.4" x2="635.6" y2="881.9" stroke="#141414" stroke-width="2.3"/>
<line x1="687.6" y1="891.4" x2="687.6" y2="881.9" stroke="#141414" stroke-width="2.3"/>
<line x1="724.5" y1="891.4" x2="724.5" y2="881.9" stroke="#141414" stroke-width="2.3"/>
<line x1="753.1" y1="891.4" x2="753.1" y2="881.9" stroke="#141414" stroke-width="2.3"/>
<line x1="776.5" y1="891.4" x2="776.5" y2="881.9" stroke="#141414" stroke-width="2.3"/>
<line x1="796.3" y1="891.4" x2="796.3" y2="881.9" stroke="#141414" stroke-width="2.3"/>
<line x1="813.4" y1="891.4" x2="813.4" y2="881.9" stroke="#141414" stroke-width="2.3"/>
<line x1="828.5" y1="891.4" x2="828.5" y2="881.9" stroke="#141414" stroke-width="2.3"/>
<line x1="842.0" y1="891.4" x2="842.0" y2="876.9" stroke="#141414" stroke-width="2.6"/>
<line x1="930.9" y1="891.4" x2="930.9" y2="881.9" stroke="#141414" stroke-width="2.3"/>
<line x1="982.9" y1="891.4" x2="982.9" y2="881.9" stroke="#141414" stroke-width="2.3"/>
<line x1="1019.8" y1="891.4" x2="1019.8" y2="881.9" stroke="#141414" stroke-width="2.3"/>
<line x1="1048.4" y1="891.4" x2="1048.4" y2="881.9" stroke="#141414" stroke-width="2.3"/>
<line x1="1071.7" y1="891.4" x2="1071.7" y2="881.9" stroke="#141414" stroke-width="2.3"/>
<line x1="1091.5" y1="891.4" x2="1091.5" y2="881.9" stroke="#141414" stroke-width="2.3"/>
<line x1="1108.6" y1="891.4" x2="1108.6" y2="881.9" stroke="#141414" stroke-width="2.3"/>
<line x1="1123.7" y1="891.4" x2="1123.7" y2="881.9" stroke="#141414" stroke-width="2.3"/>
<line x1="1137.2" y1="891.4" x2="1137.2" y2="876.9" stroke="#141414" stroke-width="2.6"/>
<line x1="1315.0" y1="891.4" x2="1315.0" y2="881.9" stroke="#141414" stroke-width="2.3"/>
<line x1="1343.6" y1="891.4" x2="1343.6" y2="881.9" stroke="#141414" stroke-width="2.3"/>
<line x1="1367.0" y1="891.4" x2="1367.0" y2="881.9" stroke="#141414" stroke-width="2.3"/>
<line x1="1386.8" y1="891.4" x2="1386.8" y2="881.9" stroke="#141414" stroke-width="2.3"/>
<line x1="1403.9" y1="891.4" x2="1403.9" y2="881.9" stroke="#141414" stroke-width="2.3"/>
<line x1="1419.0" y1="891.4" x2="1419.0" y2="881.9" stroke="#141414" stroke-width="2.3"/>
<line x1="251.5" y1="401.8" x2="1435.5" y2="401.8" stroke="#141414" stroke-width="3.9"/>
<path d="M593.3 116.9H583.4M585.1 120.4H575.2M577.0 123.9H567.1M568.9 127.5H558.9M560.7 131.0H550.8M552.5 134.5H542.6M544.4 138.1H538.5M540.3 141.6H534.4M536.2 145.1H530.4M532.1 148.6H526.3M528.1 152.1H522.2M524.0 155.6H518.1M517.2 156.4V163.4M513.5 161.6V168.6M509.9 166.8V173.7M506.2 171.9V178.9M502.7 177.1V202.7M501.0 200.9V222.8M503.0 221.0V233.3M506.9 231.5V243.9M510.4 242.1V254.6M513.5 252.8V265.3M516.8 263.5V272.3M520.4 270.5V279.3M523.9 277.5V286.3M527.5 284.5V292.2M531.0 290.4V298.2M534.5 296.4V304.1M538.0 302.4V310.1M541.5 308.3V314.4M545.0 312.6V318.6M548.6 316.8V322.9M552.2 321.1V327.1M555.7 325.3V331.4M559.2 329.6V335.5M562.7 333.7V339.6M566.2 337.8V343.7M569.7 341.9V347.8M573.2 346.0V351.9M576.7 350.1V356.0M580.3 354.2V360.0M583.8 358.2V364.1M587.4 362.3V368.1M591.0 366.3V372.2M592.8 370.4V392.4" fill="none" stroke="#141414" stroke-width="3.3"/>
<path d="M614.9 393.3H602.4M604.2 396.9H591.7M593.5 400.5H581.0M582.8 404.1H570.4M572.2 407.8H559.7M561.5 411.4H549.0M550.8 415.0H538.3M541.0 415.9V421.3M544.5 419.5V424.8M548.0 423.0V428.4M551.5 426.6V432.0M555.0 430.2V435.5M558.5 433.7V439.1M562.1 437.3V443.2M565.8 441.4V447.3M569.4 445.5V451.5M573.0 449.7V455.6M576.7 453.8V459.7M580.2 457.9V463.8M583.8 462.0V467.8M587.2 466.0V471.9M590.8 470.1V475.9M594.2 474.1V480.0M595.1 480.8H600.4M598.6 484.3H603.9M602.1 487.8H607.4M605.6 491.3H610.9M609.1 494.8H614.4M612.6 498.3H617.9M618.8 499.1V504.9M622.3 503.1V508.9M625.9 507.1V512.9M629.4 511.1V516.9M633.0 515.1V520.9M636.5 519.1V524.9M637.4 525.8H643.2M641.4 529.3H647.2M645.4 532.9H651.2M649.4 536.4H655.2M653.4 540.0H659.2M657.4 543.5H663.2M664.0 544.4V549.7M667.5 547.9V553.2M671.0 551.4V556.7M674.5 554.9V560.2M678.0 558.4V563.7M681.5 561.9V567.2M682.3 568.0H688.7M686.9 571.3H693.4M691.6 574.7H698.0M696.2 578.1H702.6M700.8 581.5H707.3M705.5 584.8H711.9M710.1 588.2H715.9M714.1 591.7H719.9M718.1 595.2H723.9M722.1 598.7H727.9M726.1 602.2H731.9M730.1 605.7H735.9M734.1 609.1H740.1M738.3 612.4H744.3M742.5 615.7H748.5M746.7 619.0H752.7M750.9 622.4H756.9M755.1 625.7H761.1M759.3 629.0H765.3M763.5 632.5H769.8M768.0 636.2H774.3M772.5 639.9H778.7M776.9 643.5H783.2M781.4 647.2H787.7M785.9 650.9H792.2M790.4 654.4H796.9M795.1 657.9H801.6M799.8 661.3H806.3M804.5 664.8H811.0M809.2 668.2H815.7M813.9 671.7H820.4M818.6 675.2H825.7M823.9 678.7H831.0M829.2 682.2H836.4M834.6 685.7H841.7M839.9 689.2H847.0M845.2 692.7H852.3M850.5 696.2H856.9M855.1 699.7H861.5M859.7 703.2H866.0M864.2 706.7H870.6M868.8 710.2H875.2M873.4 713.7H879.8M878.0 717.1H884.4M882.6 720.5H888.9M887.1 724.0H893.5M891.7 727.4H898.1M896.3 730.8H902.7M900.9 734.3H907.2M905.4 737.7H911.8M910.0 741.1H917.1M915.3 744.6H922.3M920.5 748.1H927.6M925.8 751.6H932.9M931.1 755.1H938.1M936.3 758.6H943.4M941.6 762.2H948.6M946.8 765.8H953.8M952.0 769.3H958.9M957.1 772.9H964.1M962.3 776.4H969.3M967.5 780.0H974.5M972.7 783.5H980.4M978.6 787.0H986.3M984.5 790.5H992.2M990.4 793.9H998.1M996.3 797.4H1004.0M1002.2 800.9H1009.9M1008.1 804.3H1015.2M1013.4 807.8H1020.4M1018.6 811.3H1025.7M1023.9 814.8H1031.0M1029.2 818.3H1036.2M1034.4 821.8H1041.5M1039.7 825.2H1046.0M1044.2 828.6H1050.5M1048.7 832.1H1055.0M1053.2 835.5H1059.6M1057.8 838.9H1064.1M1062.3 842.4H1068.6M1066.8 845.8H1073.1M1071.3 849.2H1078.9M1077.1 852.6H1084.7M1082.9 856.1H1090.5M1088.7 859.5H1096.2M1094.4 863.0H1102.0M1100.2 866.4H1107.8M1106.0 869.8H1112.1M1110.3 873.2H1116.4M1114.6 876.7H1120.8M1118.9 880.1H1125.1M1123.3 883.6H1129.4M1127.6 887.0H1133.7" fill="none" stroke="#141414" stroke-width="3.3"/>
<path d="M1143.6 287.0H1116.4M1118.2 290.4H1091.0M1092.8 293.9H1065.6M1067.4 297.3H1040.2M1042.0 300.7H1014.8M1016.6 304.2H989.4M991.2 307.6H964.0M965.8 311.1H941.3M943.1 314.8H918.6M920.4 318.5H895.9M897.6 322.2H873.1M874.9 325.9H850.4M852.2 329.6H827.7M829.5 333.1H810.1M811.9 336.6H792.5M794.3 340.1H774.9M776.6 343.6H757.2M759.0 347.1H739.6M741.4 350.6H722.0M723.8 354.1H708.5M710.3 357.6H695.0M696.8 361.1H681.5M683.3 364.6H668.0M669.8 368.1H654.5M656.3 371.6H641.0M642.8 375.0H630.9M632.6 378.3H620.7M622.5 381.6H610.6M612.4 385.0H600.4M602.2 388.3H590.2M592.0 391.6H580.1M580.1 395.1H608.2M606.4 398.8H634.4M632.6 402.5H660.7M658.9 406.1H686.9M685.1 409.8H713.2M711.4 413.5H739.4M737.6 417.2H765.7" fill="none" stroke="#141414" stroke-width="3.3"/>
<path d="M1220.5 502.4H1199.7M1201.5 505.9H1180.7M1182.5 509.4H1161.7M1163.5 513.0H1142.8M1144.6 516.5H1123.8M1125.6 520.0H1104.8M1106.6 523.5H1085.8M1087.6 527.0H1067.8M1069.7 530.4H1049.9M1051.7 533.8H1031.9M1033.8 537.2H1014.0M1015.8 540.6H996.1M997.9 544.0H978.1M979.9 547.6H963.7M965.5 551.3H949.2M951.0 555.1H934.8M936.6 558.8H920.4M922.2 562.6H905.9M907.7 566.3H891.5M893.3 570.0H879.5M881.3 573.7H867.4M869.2 577.4H855.4M857.2 581.0H843.3M845.1 584.7H831.3M833.1 588.3H822.9M824.7 591.8H814.5M816.3 595.4H806.1M807.9 598.9H797.8M799.6 602.5H789.4M791.2 606.0H781.0M782.8 609.5H776.0M777.8 612.8H771.0M772.8 616.1H766.0M767.8 619.4H761.1M762.9 622.7H756.1M757.9 626.0H751.1M752.9 629.3H746.1M747.9 632.9H742.0M743.8 636.6H738.0M739.8 640.4H733.9M735.7 644.2H729.8M731.6 648.0H725.8M727.6 651.7H721.7M720.8 652.7V658.7M717.2 656.9V662.9M713.7 661.1V667.1M710.1 665.3V671.3M706.5 669.5V675.5M703.1 673.7V686.0M699.9 684.2V696.5M697.9 694.7V717.9M699.4 716.1V729.3M703.2 727.5V740.7M704.2 741.6H711.8M710.0 745.2H717.6M715.8 748.9H723.4M721.6 752.5H729.3M727.5 756.1H735.1M733.3 759.8H740.9M739.1 763.3H746.1M744.3 766.6H751.3M749.5 770.0H756.5M754.7 773.4H761.7M759.9 776.8H766.9M765.1 780.1H772.1M770.3 783.5H777.4M775.6 787.0H782.7M780.9 790.5H788.0M786.2 793.9H793.3M791.5 797.4H798.6M796.8 800.9H803.9M802.1 804.3H809.2M807.4 807.7H814.6M812.8 811.1H819.9M818.1 814.6H825.2M823.4 818.0H830.6M828.8 821.4H835.9M834.1 824.8H840.8M839.0 828.3H845.7M843.9 831.8H850.6M848.8 835.3H855.5M853.7 838.8H860.4M858.6 842.3H865.3M863.5 845.8H870.2M868.4 849.2H875.4M873.6 852.6H880.6M878.8 856.1H885.9M884.1 859.5H891.1M889.3 863.0H896.3M894.5 866.4H901.5M899.7 869.9H906.9M905.1 873.4H912.4M910.6 877.0H917.9M916.1 880.5H923.3M921.5 884.1H928.7M926.9 887.6H934.2" fill="none" stroke="#141414" stroke-width="3.3"/>
<rect x="583.9" y="106.6" width="16.9" height="16.9" fill="none" stroke="#141414" stroke-width="3.9"/>
<rect x="535.0" y="127.9" width="16.9" height="16.9" fill="none" stroke="#141414" stroke-width="3.9"/>
<rect x="510.6" y="148.9" width="16.9" height="16.9" fill="none" stroke="#141414" stroke-width="3.9"/>
<rect x="495.9" y="169.6" width="16.9" height="16.9" fill="none" stroke="#141414" stroke-width="3.9"/>
<rect x="492.6" y="193.4" width="16.9" height="16.9" fill="none" stroke="#141414" stroke-width="3.9"/>
<rect x="492.6" y="213.5" width="16.9" height="16.9" fill="none" stroke="#141414" stroke-width="3.9"/>
<rect x="500.4" y="234.6" width="16.9" height="16.9" fill="none" stroke="#141414" stroke-width="3.9"/>
<rect x="506.6" y="255.9" width="16.9" height="16.9" fill="none" stroke="#141414" stroke-width="3.9"/>
<rect x="517.2" y="276.9" width="16.9" height="16.9" fill="none" stroke="#141414" stroke-width="3.9"/>
<rect x="531.2" y="300.8" width="16.9" height="16.9" fill="none" stroke="#141414" stroke-width="3.9"/>
<rect x="549.0" y="322.1" width="16.9" height="16.9" fill="none" stroke="#141414" stroke-width="3.9"/>
<rect x="566.4" y="342.6" width="16.9" height="16.9" fill="none" stroke="#141414" stroke-width="3.9"/>
<rect x="584.3" y="362.9" width="16.9" height="16.9" fill="none" stroke="#141414" stroke-width="3.9"/>
<rect x="584.2" y="383.1" width="16.9" height="16.9" fill="none" stroke="#141414" stroke-width="3.9"/>
<rect x="605.5" y="383.1" width="16.9" height="16.9" fill="none" stroke="#141414" stroke-width="3.9"/>
<rect x="530.8" y="408.4" width="16.9" height="16.9" fill="none" stroke="#141414" stroke-width="3.9"/>
<rect x="551.8" y="429.8" width="16.9" height="16.9" fill="none" stroke="#141414" stroke-width="3.9"/>
<rect x="570.0" y="450.4" width="16.9" height="16.9" fill="none" stroke="#141414" stroke-width="3.9"/>
<rect x="587.5" y="470.7" width="16.9" height="16.9" fill="none" stroke="#141414" stroke-width="3.9"/>
<rect x="608.5" y="491.6" width="16.9" height="16.9" fill="none" stroke="#141414" stroke-width="3.9"/>
<rect x="629.8" y="515.5" width="16.9" height="16.9" fill="none" stroke="#141414" stroke-width="3.9"/>
<rect x="653.8" y="536.8" width="16.9" height="16.9" fill="none" stroke="#141414" stroke-width="3.9"/>
<rect x="674.8" y="557.8" width="16.9" height="16.9" fill="none" stroke="#141414" stroke-width="3.9"/>
<rect x="702.5" y="578.0" width="16.9" height="16.9" fill="none" stroke="#141414" stroke-width="3.9"/>
<rect x="726.5" y="598.9" width="16.9" height="16.9" fill="none" stroke="#141414" stroke-width="3.9"/>
<rect x="755.9" y="622.2" width="16.9" height="16.9" fill="none" stroke="#141414" stroke-width="3.9"/>
<rect x="782.8" y="644.2" width="16.9" height="16.9" fill="none" stroke="#141414" stroke-width="3.9"/>
<rect x="811.0" y="664.9" width="16.9" height="16.9" fill="none" stroke="#141414" stroke-width="3.9"/>
<rect x="842.9" y="686.0" width="16.9" height="16.9" fill="none" stroke="#141414" stroke-width="3.9"/>
<rect x="870.4" y="706.9" width="16.9" height="16.9" fill="none" stroke="#141414" stroke-width="3.9"/>
<rect x="902.4" y="730.9" width="16.9" height="16.9" fill="none" stroke="#141414" stroke-width="3.9"/>
<rect x="934.0" y="751.9" width="16.9" height="16.9" fill="none" stroke="#141414" stroke-width="3.9"/>
<rect x="965.1" y="773.3" width="16.9" height="16.9" fill="none" stroke="#141414" stroke-width="3.9"/>
<rect x="1000.5" y="794.1" width="16.9" height="16.9" fill="none" stroke="#141414" stroke-width="3.9"/>
<rect x="1032.1" y="815.0" width="16.9" height="16.9" fill="none" stroke="#141414" stroke-width="3.9"/>
<rect x="1063.8" y="839.0" width="16.9" height="16.9" fill="none" stroke="#141414" stroke-width="3.9"/>
<rect x="1098.5" y="859.6" width="16.9" height="16.9" fill="none" stroke="#141414" stroke-width="3.9"/>
<rect x="1124.3" y="880.2" width="16.9" height="16.9" fill="none" stroke="#141414" stroke-width="3.9"/>
<rect x="1130.5" y="880.2" width="16.9" height="16.9" fill="none" stroke="#141414" stroke-width="3.9"/>
<g fill="#141414"><path d="M1132.4 285.3L1153.0 285.3M1136.0 278.6L1149.4 292.0M1142.7 275.0L1142.7 295.6M1149.4 278.6L1136.0 292.0" stroke="#141414" stroke-width="3.2" stroke-linecap="round" fill="none"/><circle cx="1142.7" cy="285.3" r="6.4"/><circle cx="1133.4" cy="285.3" r="1.9"/><circle cx="1152.0" cy="285.3" r="1.9"/><circle cx="1136.7" cy="279.3" r="1.9"/><circle cx="1148.7" cy="291.3" r="1.9"/><circle cx="1142.7" cy="276.0" r="1.9"/><circle cx="1142.7" cy="294.6" r="1.9"/><circle cx="1148.7" cy="279.3" r="1.9"/><circle cx="1136.7" cy="291.3" r="1.9"/></g>
<g fill="#141414"><path d="M954.6 309.3L975.2 309.3M958.2 302.6L971.6 316.0M964.9 299.0L964.9 319.6M971.6 302.6L958.2 316.0" stroke="#141414" stroke-width="3.2" stroke-linecap="round" fill="none"/><circle cx="964.9" cy="309.3" r="6.4"/><circle cx="955.6" cy="309.3" r="1.9"/><circle cx="974.2" cy="309.3" r="1.9"/><circle cx="958.9" cy="303.3" r="1.9"/><circle cx="970.9" cy="315.3" r="1.9"/><circle cx="964.9" cy="300.0" r="1.9"/><circle cx="964.9" cy="318.6" r="1.9"/><circle cx="970.9" cy="303.3" r="1.9"/><circle cx="958.9" cy="315.3" r="1.9"/></g>
<g fill="#141414"><path d="M818.3 331.4L838.9 331.4M821.9 324.7L835.3 338.1M828.6 321.1L828.6 341.7M835.3 324.7L821.9 338.1" stroke="#141414" stroke-width="3.2" stroke-linecap="round" fill="none"/><circle cx="828.6" cy="331.4" r="6.4"/><circle cx="819.3" cy="331.4" r="1.9"/><circle cx="837.9" cy="331.4" r="1.9"/><circle cx="822.6" cy="325.4" r="1.9"/><circle cx="834.6" cy="337.4" r="1.9"/><circle cx="828.6" cy="322.1" r="1.9"/><circle cx="828.6" cy="340.7" r="1.9"/><circle cx="834.6" cy="325.4" r="1.9"/><circle cx="822.6" cy="337.4" r="1.9"/></g>
<g fill="#141414"><path d="M712.6 352.4L733.2 352.4M716.2 345.7L729.6 359.1M722.9 342.1L722.9 362.7M729.6 345.7L716.2 359.1" stroke="#141414" stroke-width="3.2" stroke-linecap="round" fill="none"/><circle cx="722.9" cy="352.4" r="6.4"/><circle cx="713.6" cy="352.4" r="1.9"/><circle cx="732.2" cy="352.4" r="1.9"/><circle cx="716.9" cy="346.4" r="1.9"/><circle cx="728.9" cy="358.4" r="1.9"/><circle cx="722.9" cy="343.1" r="1.9"/><circle cx="722.9" cy="361.7" r="1.9"/><circle cx="728.9" cy="346.4" r="1.9"/><circle cx="716.9" cy="358.4" r="1.9"/></g>
<g fill="#141414"><path d="M631.6 373.3L652.2 373.3M635.2 366.6L648.6 380.0M641.9 363.0L641.9 383.6M648.6 366.6L635.2 380.0" stroke="#141414" stroke-width="3.2" stroke-linecap="round" fill="none"/><circle cx="641.9" cy="373.3" r="6.4"/><circle cx="632.6" cy="373.3" r="1.9"/><circle cx="651.2" cy="373.3" r="1.9"/><circle cx="635.9" cy="367.3" r="1.9"/><circle cx="647.9" cy="379.3" r="1.9"/><circle cx="641.9" cy="364.0" r="1.9"/><circle cx="641.9" cy="382.6" r="1.9"/><circle cx="647.9" cy="367.3" r="1.9"/><circle cx="635.9" cy="379.3" r="1.9"/></g>
<g fill="#141414"><path d="M570.7 393.3L591.3 393.3M574.3 386.6L587.7 400.0M581.0 383.0L581.0 403.6M587.7 386.6L574.3 400.0" stroke="#141414" stroke-width="3.2" stroke-linecap="round" fill="none"/><circle cx="581.0" cy="393.3" r="6.4"/><circle cx="571.7" cy="393.3" r="1.9"/><circle cx="590.3" cy="393.3" r="1.9"/><circle cx="575.0" cy="387.3" r="1.9"/><circle cx="587.0" cy="399.3" r="1.9"/><circle cx="581.0" cy="384.0" r="1.9"/><circle cx="581.0" cy="402.6" r="1.9"/><circle cx="587.0" cy="387.3" r="1.9"/><circle cx="575.0" cy="399.3" r="1.9"/></g>
<g fill="#141414"><path d="M754.5 419.0L775.1 419.0M758.1 412.3L771.5 425.7M764.8 408.7L764.8 429.3M771.5 412.3L758.1 425.7" stroke="#141414" stroke-width="3.2" stroke-linecap="round" fill="none"/><circle cx="764.8" cy="419.0" r="6.4"/><circle cx="755.5" cy="419.0" r="1.9"/><circle cx="774.1" cy="419.0" r="1.9"/><circle cx="758.8" cy="413.0" r="1.9"/><circle cx="770.8" cy="425.0" r="1.9"/><circle cx="764.8" cy="409.7" r="1.9"/><circle cx="764.8" cy="428.3" r="1.9"/><circle cx="770.8" cy="413.0" r="1.9"/><circle cx="758.8" cy="425.0" r="1.9"/></g>
<g fill="#141414"><path d="M1209.3 500.6L1229.9 500.6M1212.9 493.9L1226.3 507.3M1219.6 490.3L1219.6 510.9M1226.3 493.9L1212.9 507.3" stroke="#141414" stroke-width="3.2" stroke-linecap="round" fill="none"/><circle cx="1219.6" cy="500.6" r="6.4"/><circle cx="1210.3" cy="500.6" r="1.9"/><circle cx="1228.9" cy="500.6" r="1.9"/><circle cx="1213.6" cy="494.6" r="1.9"/><circle cx="1225.6" cy="506.6" r="1.9"/><circle cx="1219.6" cy="491.3" r="1.9"/><circle cx="1219.6" cy="509.9" r="1.9"/><circle cx="1225.6" cy="494.6" r="1.9"/><circle cx="1213.6" cy="506.6" r="1.9"/></g>
<g fill="#141414"><path d="M1076.4 525.3L1097.0 525.3M1080.0 518.6L1093.4 532.0M1086.7 515.0L1086.7 535.6M1093.4 518.6L1080.0 532.0" stroke="#141414" stroke-width="3.2" stroke-linecap="round" fill="none"/><circle cx="1086.7" cy="525.3" r="6.4"/><circle cx="1077.4" cy="525.3" r="1.9"/><circle cx="1096.0" cy="525.3" r="1.9"/><circle cx="1080.7" cy="519.3" r="1.9"/><circle cx="1092.7" cy="531.3" r="1.9"/><circle cx="1086.7" cy="516.0" r="1.9"/><circle cx="1086.7" cy="534.6" r="1.9"/><circle cx="1092.7" cy="519.3" r="1.9"/><circle cx="1080.7" cy="531.3" r="1.9"/></g>
<g fill="#141414"><path d="M968.7 545.7L989.3 545.7M972.3 539.0L985.7 552.4M979.0 535.4L979.0 556.0M985.7 539.0L972.3 552.4" stroke="#141414" stroke-width="3.2" stroke-linecap="round" fill="none"/><circle cx="979.0" cy="545.7" r="6.4"/><circle cx="969.7" cy="545.7" r="1.9"/><circle cx="988.3" cy="545.7" r="1.9"/><circle cx="973.0" cy="539.7" r="1.9"/><circle cx="985.0" cy="551.7" r="1.9"/><circle cx="979.0" cy="536.4" r="1.9"/><circle cx="979.0" cy="555.0" r="1.9"/><circle cx="985.0" cy="539.7" r="1.9"/><circle cx="973.0" cy="551.7" r="1.9"/></g>
<g fill="#141414"><path d="M882.1 568.2L902.7 568.2M885.7 561.5L899.1 574.9M892.4 557.9L892.4 578.5M899.1 561.5L885.7 574.9" stroke="#141414" stroke-width="3.2" stroke-linecap="round" fill="none"/><circle cx="892.4" cy="568.2" r="6.4"/><circle cx="883.1" cy="568.2" r="1.9"/><circle cx="901.7" cy="568.2" r="1.9"/><circle cx="886.4" cy="562.2" r="1.9"/><circle cx="898.4" cy="574.2" r="1.9"/><circle cx="892.4" cy="558.9" r="1.9"/><circle cx="892.4" cy="577.5" r="1.9"/><circle cx="898.4" cy="562.2" r="1.9"/><circle cx="886.4" cy="574.2" r="1.9"/></g>
<g fill="#141414"><path d="M821.9 586.5L842.5 586.5M825.5 579.8L838.9 593.2M832.2 576.2L832.2 596.8M838.9 579.8L825.5 593.2" stroke="#141414" stroke-width="3.2" stroke-linecap="round" fill="none"/><circle cx="832.2" cy="586.5" r="6.4"/><circle cx="822.9" cy="586.5" r="1.9"/><circle cx="841.5" cy="586.5" r="1.9"/><circle cx="826.2" cy="580.5" r="1.9"/><circle cx="838.2" cy="592.5" r="1.9"/><circle cx="832.2" cy="577.2" r="1.9"/><circle cx="832.2" cy="595.8" r="1.9"/><circle cx="838.2" cy="580.5" r="1.9"/><circle cx="826.2" cy="592.5" r="1.9"/></g>
<g fill="#141414"><path d="M771.6 607.8L792.2 607.8M775.2 601.1L788.6 614.5M781.9 597.5L781.9 618.1M788.6 601.1L775.2 614.5" stroke="#141414" stroke-width="3.2" stroke-linecap="round" fill="none"/><circle cx="781.9" cy="607.8" r="6.4"/><circle cx="772.6" cy="607.8" r="1.9"/><circle cx="791.2" cy="607.8" r="1.9"/><circle cx="775.9" cy="601.8" r="1.9"/><circle cx="787.9" cy="613.8" r="1.9"/><circle cx="781.9" cy="598.5" r="1.9"/><circle cx="781.9" cy="617.1" r="1.9"/><circle cx="787.9" cy="601.8" r="1.9"/><circle cx="775.9" cy="613.8" r="1.9"/></g>
<g fill="#141414"><path d="M736.7 631.0L757.3 631.0M740.3 624.3L753.7 637.7M747.0 620.7L747.0 641.3M753.7 624.3L740.3 637.7" stroke="#141414" stroke-width="3.2" stroke-linecap="round" fill="none"/><circle cx="747.0" cy="631.0" r="6.4"/><circle cx="737.7" cy="631.0" r="1.9"/><circle cx="756.3" cy="631.0" r="1.9"/><circle cx="741.0" cy="625.0" r="1.9"/><circle cx="753.0" cy="637.0" r="1.9"/><circle cx="747.0" cy="621.7" r="1.9"/><circle cx="747.0" cy="640.3" r="1.9"/><circle cx="753.0" cy="625.0" r="1.9"/><circle cx="741.0" cy="637.0" r="1.9"/></g>
<g fill="#141414"><path d="M712.3 653.6L732.9 653.6M715.9 646.9L729.3 660.3M722.6 643.3L722.6 663.9M729.3 646.9L715.9 660.3" stroke="#141414" stroke-width="3.2" stroke-linecap="round" fill="none"/><circle cx="722.6" cy="653.6" r="6.4"/><circle cx="713.3" cy="653.6" r="1.9"/><circle cx="731.9" cy="653.6" r="1.9"/><circle cx="716.6" cy="647.6" r="1.9"/><circle cx="728.6" cy="659.6" r="1.9"/><circle cx="722.6" cy="644.3" r="1.9"/><circle cx="722.6" cy="662.9" r="1.9"/><circle cx="728.6" cy="647.6" r="1.9"/><circle cx="716.6" cy="659.6" r="1.9"/></g>
<g fill="#141414"><path d="M694.4 674.6L715.0 674.6M698.0 667.9L711.4 681.3M704.7 664.3L704.7 684.9M711.4 667.9L698.0 681.3" stroke="#141414" stroke-width="3.2" stroke-linecap="round" fill="none"/><circle cx="704.7" cy="674.6" r="6.4"/><circle cx="695.4" cy="674.6" r="1.9"/><circle cx="714.0" cy="674.6" r="1.9"/><circle cx="698.7" cy="668.6" r="1.9"/><circle cx="710.7" cy="680.6" r="1.9"/><circle cx="704.7" cy="665.3" r="1.9"/><circle cx="704.7" cy="683.9" r="1.9"/><circle cx="710.7" cy="668.6" r="1.9"/><circle cx="698.7" cy="680.6" r="1.9"/></g>
<g fill="#141414"><path d="M688.0 695.6L708.6 695.6M691.6 688.9L705.0 702.3M698.3 685.3L698.3 705.9M705.0 688.9L691.6 702.3" stroke="#141414" stroke-width="3.2" stroke-linecap="round" fill="none"/><circle cx="698.3" cy="695.6" r="6.4"/><circle cx="689.0" cy="695.6" r="1.9"/><circle cx="707.6" cy="695.6" r="1.9"/><circle cx="692.3" cy="689.6" r="1.9"/><circle cx="704.3" cy="701.6" r="1.9"/><circle cx="698.3" cy="686.3" r="1.9"/><circle cx="698.3" cy="704.9" r="1.9"/><circle cx="704.3" cy="689.6" r="1.9"/><circle cx="692.3" cy="701.6" r="1.9"/></g>
<g fill="#141414"><path d="M687.2 717.0L707.8 717.0M690.8 710.3L704.2 723.7M697.5 706.7L697.5 727.3M704.2 710.3L690.8 723.7" stroke="#141414" stroke-width="3.2" stroke-linecap="round" fill="none"/><circle cx="697.5" cy="717.0" r="6.4"/><circle cx="688.2" cy="717.0" r="1.9"/><circle cx="706.8" cy="717.0" r="1.9"/><circle cx="691.5" cy="711.0" r="1.9"/><circle cx="703.5" cy="723.0" r="1.9"/><circle cx="697.5" cy="707.7" r="1.9"/><circle cx="697.5" cy="726.3" r="1.9"/><circle cx="703.5" cy="711.0" r="1.9"/><circle cx="691.5" cy="723.0" r="1.9"/></g>
<g fill="#141414"><path d="M694.8 739.8L715.4 739.8M698.4 733.1L711.8 746.5M705.1 729.5L705.1 750.1M711.8 733.1L698.4 746.5" stroke="#141414" stroke-width="3.2" stroke-linecap="round" fill="none"/><circle cx="705.1" cy="739.8" r="6.4"/><circle cx="695.8" cy="739.8" r="1.9"/><circle cx="714.4" cy="739.8" r="1.9"/><circle cx="699.1" cy="733.8" r="1.9"/><circle cx="711.1" cy="745.8" r="1.9"/><circle cx="705.1" cy="730.5" r="1.9"/><circle cx="705.1" cy="749.1" r="1.9"/><circle cx="711.1" cy="733.8" r="1.9"/><circle cx="699.1" cy="745.8" r="1.9"/></g>
<g fill="#141414"><path d="M729.7 761.6L750.3 761.6M733.3 754.9L746.7 768.3M740.0 751.3L740.0 771.9M746.7 754.9L733.3 768.3" stroke="#141414" stroke-width="3.2" stroke-linecap="round" fill="none"/><circle cx="740.0" cy="761.6" r="6.4"/><circle cx="730.7" cy="761.6" r="1.9"/><circle cx="749.3" cy="761.6" r="1.9"/><circle cx="734.0" cy="755.6" r="1.9"/><circle cx="746.0" cy="767.6" r="1.9"/><circle cx="740.0" cy="752.3" r="1.9"/><circle cx="740.0" cy="770.9" r="1.9"/><circle cx="746.0" cy="755.6" r="1.9"/><circle cx="734.0" cy="767.6" r="1.9"/></g>
<g fill="#141414"><path d="M760.9 781.8L781.5 781.8M764.5 775.1L777.9 788.5M771.2 771.5L771.2 792.1M777.9 775.1L764.5 788.5" stroke="#141414" stroke-width="3.2" stroke-linecap="round" fill="none"/><circle cx="771.2" cy="781.8" r="6.4"/><circle cx="761.9" cy="781.8" r="1.9"/><circle cx="780.5" cy="781.8" r="1.9"/><circle cx="765.2" cy="775.8" r="1.9"/><circle cx="777.2" cy="787.8" r="1.9"/><circle cx="771.2" cy="772.5" r="1.9"/><circle cx="771.2" cy="791.1" r="1.9"/><circle cx="777.2" cy="775.8" r="1.9"/><circle cx="765.2" cy="787.8" r="1.9"/></g>
<g fill="#141414"><path d="M792.7 802.6L813.3 802.6M796.3 795.9L809.7 809.3M803.0 792.3L803.0 812.9M809.7 795.9L796.3 809.3" stroke="#141414" stroke-width="3.2" stroke-linecap="round" fill="none"/><circle cx="803.0" cy="802.6" r="6.4"/><circle cx="793.7" cy="802.6" r="1.9"/><circle cx="812.3" cy="802.6" r="1.9"/><circle cx="797.0" cy="796.6" r="1.9"/><circle cx="809.0" cy="808.6" r="1.9"/><circle cx="803.0" cy="793.3" r="1.9"/><circle cx="803.0" cy="811.9" r="1.9"/><circle cx="809.0" cy="796.6" r="1.9"/><circle cx="797.0" cy="808.6" r="1.9"/></g>
<g fill="#141414"><path d="M824.7 823.1L845.3 823.1M828.3 816.4L841.7 829.8M835.0 812.8L835.0 833.4M841.7 816.4L828.3 829.8" stroke="#141414" stroke-width="3.2" stroke-linecap="round" fill="none"/><circle cx="835.0" cy="823.1" r="6.4"/><circle cx="825.7" cy="823.1" r="1.9"/><circle cx="844.3" cy="823.1" r="1.9"/><circle cx="829.0" cy="817.1" r="1.9"/><circle cx="841.0" cy="829.1" r="1.9"/><circle cx="835.0" cy="813.8" r="1.9"/><circle cx="835.0" cy="832.4" r="1.9"/><circle cx="841.0" cy="817.1" r="1.9"/><circle cx="829.0" cy="829.1" r="1.9"/></g>
<g fill="#141414"><path d="M859.0 847.5L879.6 847.5M862.6 840.8L876.0 854.2M869.3 837.2L869.3 857.8M876.0 840.8L862.6 854.2" stroke="#141414" stroke-width="3.2" stroke-linecap="round" fill="none"/><circle cx="869.3" cy="847.5" r="6.4"/><circle cx="860.0" cy="847.5" r="1.9"/><circle cx="878.6" cy="847.5" r="1.9"/><circle cx="863.3" cy="841.5" r="1.9"/><circle cx="875.3" cy="853.5" r="1.9"/><circle cx="869.3" cy="838.2" r="1.9"/><circle cx="869.3" cy="856.8" r="1.9"/><circle cx="875.3" cy="841.5" r="1.9"/><circle cx="863.3" cy="853.5" r="1.9"/></g>
<g fill="#141414"><path d="M890.3 868.1L910.9 868.1M893.9 861.4L907.3 874.8M900.6 857.8L900.6 878.4M907.3 861.4L893.9 874.8" stroke="#141414" stroke-width="3.2" stroke-linecap="round" fill="none"/><circle cx="900.6" cy="868.1" r="6.4"/><circle cx="891.3" cy="868.1" r="1.9"/><circle cx="909.9" cy="868.1" r="1.9"/><circle cx="894.6" cy="862.1" r="1.9"/><circle cx="906.6" cy="874.1" r="1.9"/><circle cx="900.6" cy="858.8" r="1.9"/><circle cx="900.6" cy="877.4" r="1.9"/><circle cx="906.6" cy="862.1" r="1.9"/><circle cx="894.6" cy="874.1" r="1.9"/></g>
<g fill="#141414"><path d="M923.0 889.4L943.6 889.4M926.6 882.7L940.0 896.1M933.3 879.1L933.3 899.7M940.0 882.7L926.6 896.1" stroke="#141414" stroke-width="3.2" stroke-linecap="round" fill="none"/><circle cx="933.3" cy="889.4" r="6.4"/><circle cx="924.0" cy="889.4" r="1.9"/><circle cx="942.6" cy="889.4" r="1.9"/><circle cx="927.3" cy="883.4" r="1.9"/><circle cx="939.3" cy="895.4" r="1.9"/><circle cx="933.3" cy="880.1" r="1.9"/><circle cx="933.3" cy="898.7" r="1.9"/><circle cx="939.3" cy="883.4" r="1.9"/><circle cx="927.3" cy="895.4" r="1.9"/></g>
<text transform="translate(231.6,46.6) scale(0.968,1)" font-size="57" text-anchor="end" fill="#141414" font-family="'Liberation Serif','Noto Serif CJK SC',serif" stroke="#fcfcfc" stroke-width="0.7" stroke-linejoin="round">1<tspan dx="-3">000</tspan></text>
<text transform="translate(231.6,262.0) scale(0.968,1)" font-size="57" text-anchor="end" fill="#141414" font-family="'Liberation Serif','Noto Serif CJK SC',serif" stroke="#fcfcfc" stroke-width="0.7" stroke-linejoin="round">900</text>
<text transform="translate(231.6,476.5) scale(0.968,1)" font-size="57" text-anchor="end" fill="#141414" font-family="'Liberation Serif','Noto Serif CJK SC',serif" stroke="#fcfcfc" stroke-width="0.7" stroke-linejoin="round">800</text>
<text transform="translate(231.6,691.0) scale(0.968,1)" font-size="57" text-anchor="end" fill="#141414" font-family="'Liberation Serif','Noto Serif CJK SC',serif" stroke="#fcfcfc" stroke-width="0.7" stroke-linejoin="round">700</text>
<text transform="translate(231.6,906.8) scale(0.968,1)" font-size="57" text-anchor="end" fill="#141414" font-family="'Liberation Serif','Noto Serif CJK SC',serif" stroke="#fcfcfc" stroke-width="0.7" stroke-linejoin="round">600</text>
<text transform="translate(222.0,951.2) scale(0.968,1)" font-size="57" text-anchor="middle" fill="#141414" font-family="'Liberation Serif','Noto Serif CJK SC',serif" stroke="#fcfcfc" stroke-width="0.7" stroke-linejoin="round">1000</text>
<text transform="translate(528.3,951.2) scale(0.968,1)" font-size="57" text-anchor="middle" fill="#141414" font-family="'Liberation Serif','Noto Serif CJK SC',serif" stroke="#fcfcfc" stroke-width="0.7" stroke-linejoin="round">10000</text>
<text transform="translate(832.0,951.2) scale(0.968,1)" font-size="57" text-anchor="middle" fill="#141414" font-family="'Liberation Serif','Noto Serif CJK SC',serif" stroke="#fcfcfc" stroke-width="0.7" stroke-linejoin="round">100000</text>
<text transform="translate(1139.0,951.2) scale(0.968,1)" font-size="57" text-anchor="middle" fill="#141414" font-family="'Liberation Serif','Noto Serif CJK SC',serif" stroke="#fcfcfc" stroke-width="0.7" stroke-linejoin="round">1000000</text>
<text transform="translate(1433.5,951.2) scale(0.968,1)" font-size="57" text-anchor="middle" fill="#141414" font-family="'Liberation Serif','Noto Serif CJK SC',serif" stroke="#fcfcfc" stroke-width="0.7" stroke-linejoin="round">1.0E7.0</text>
<text transform="translate(830.0,1017.3) scale(1,1)" font-size="56" text-anchor="middle" fill="#141414" font-family="'Liberation Serif','Noto Serif CJK SC',serif" stroke="#fcfcfc" stroke-width="0.7" stroke-linejoin="round">时间/s</text>
<text transform="translate(101,616.5) rotate(-90)" x="0 54.5 114 167 225 241" font-size="55" text-anchor="start" fill="#141414" font-family="'Liberation Serif','Noto Serif CJK SC',serif" stroke="#fcfcfc" stroke-width="0.7" stroke-linejoin="round">终冷温度/℃</text>
<text transform="translate(576,311) scale(0.968,1)" font-size="57" text-anchor="start" fill="#141414" font-family="'Liberation Serif','Noto Serif CJK SC',serif" stroke="#fcfcfc" stroke-width="0.7" stroke-linejoin="round">A3=826.7C</text>
<text transform="translate(588.5,771.5) scale(0.968,1)" font-size="57" text-anchor="start" fill="#5c5c5c" font-family="'Liberation Serif','Noto Serif CJK SC',serif" stroke="#fcfcfc" stroke-width="0.7" stroke-linejoin="round">TiC</text>
</svg>
</body>
</html>
